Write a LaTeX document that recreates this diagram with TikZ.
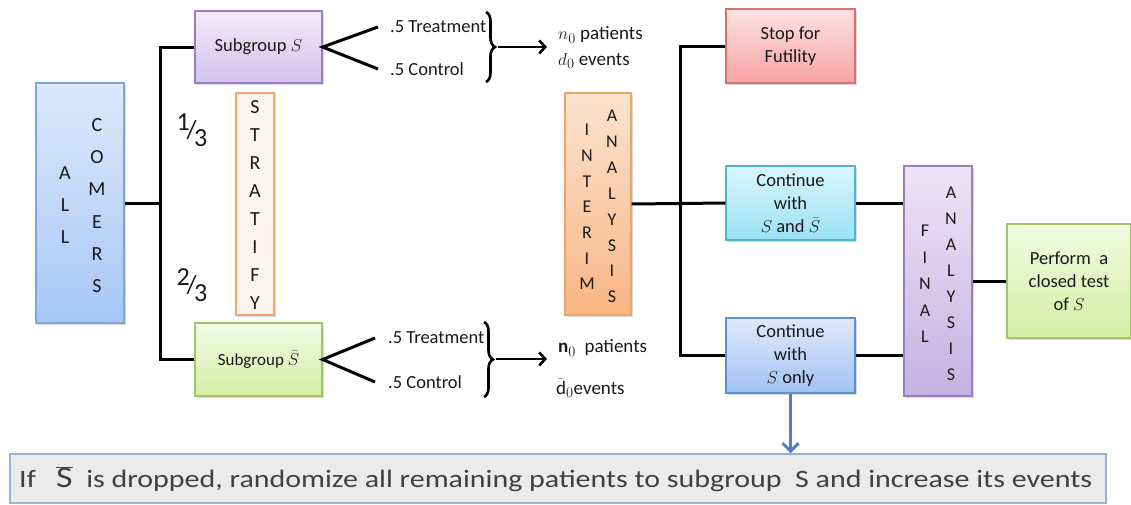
\documentclass[tikz,border=0pt]{standalone}
\usepackage{fontspec}
\setmainfont{Carlito}
\usetikzlibrary{arrows.meta,shadows,decorations.pathreplacing}
\definecolor{txt}{HTML}{1A1A1A}
\definecolor{bottxt}{HTML}{404040}
\definecolor{arrblue}{HTML}{4F81BD}
\begin{document}
\begin{tikzpicture}[x=1pt,y=-1pt,
  box/.style={draw, line width=1.2pt, inner sep=0pt, align=center,
    font=\fontsize{18.5}{23}\selectfont, text=txt,
    drop shadow={shadow xshift=1.5pt,shadow yshift=-1.5pt,opacity=0.3}},
  letters/.style={align=center, inner sep=0pt, text=txt},
  conn/.style={line width=3pt, black},
  lab/.style={inner sep=0pt, anchor=west, text=txt, font=\fontsize{18.5}{22}\selectfont},
  bracearrow/.style={line width=2.6pt, -{Straight Barb[length=6pt,width=13pt,line width=2.6pt]}},
  bracest/.style={line width=2.6pt, decorate, decoration={brace, amplitude=9pt}}
]
\useasboundingbox (0,0) rectangle (1131,504);

% boxes
\node[box, minimum width=88pt, minimum height=240pt, draw={rgb,255:red,127;green,166;blue,216}, top color={rgb,255:red,220;green,233;blue,252}, bottom color={rgb,255:red,167;green,199;blue,247}] (allc) at (80,203) {};
\node[letters, font=\fontsize{20}{32.2}\selectfont] (allA) at (65,205) {A\\L\\L};
\node[letters, font=\fontsize{20}{32.2}\selectfont] (allB) at (97,205.5) {C\\O\\M\\E\\R\\S};

\node[box, minimum width=127pt, minimum height=72pt, draw={rgb,255:red,155;green,127;blue,196}, top color={rgb,255:red,242;green,236;blue,250}, bottom color={rgb,255:red,211;green,193;blue,234}] (subS) at (258.5,47) {Subgroup $S$};
\node[box, minimum width=127pt, minimum height=73pt, draw={rgb,255:red,164;green,195;blue,106}, top color={rgb,255:red,241;green,250;blue,227}, bottom color={rgb,255:red,212;green,239;blue,166}] (subSb) at (258.5,359.5) {\fontsize{17}{20}\selectfont Subgroup $\bar S$};

\node[box, minimum width=38pt, minimum height=222pt, draw={rgb,255:red,242;green,166;blue,109}, fill={rgb,255:red,251;green,245;blue,241}] (strat) at (255,204) {};
\node[letters, font=\fontsize{20}{27.9}\selectfont] (stratT) at (255,205) {S\\T\\R\\A\\T\\I\\F\\Y};

\node[inner sep=0pt, text=txt, font=\fontsize{26}{26}\selectfont] (f13) at (192,130) {\raisebox{0.3em}{1}\kern-0.12em/\kern-0.1em\raisebox{-0.3em}{3}};
\node[inner sep=0pt, text=txt, font=\fontsize{26}{26}\selectfont] (f23) at (192,285) {\raisebox{0.3em}{2}\kern-0.12em/\kern-0.1em\raisebox{-0.3em}{3}};

\node[box, minimum width=66pt, minimum height=222pt, draw={rgb,255:red,238;green,164;blue,102}, top color={rgb,255:red,253;green,227;blue,207}, bottom color={rgb,255:red,248;green,181;blue,132}] (interim) at (598,204) {};
\node[letters, font=\fontsize{18}{25.7}\selectfont] (intA) at (587,207) {I\\N\\T\\E\\R\\I\\M};
\node[letters, font=\fontsize{18}{25.9}\selectfont] (intB) at (612,206.5) {A\\N\\A\\L\\Y\\S\\I\\S};

\node[box, minimum width=129pt, minimum height=74pt, draw={rgb,255:red,217;green,112;blue,110}, top color={rgb,255:red,253;green,226;blue,226}, bottom color={rgb,255:red,247;green,163;blue,163}] (stop) at (790.5,46) {Stop for\\Futility};
\node[box, minimum width=129pt, minimum height=74pt, draw={rgb,255:red,82;green,179;blue,204}, top color={rgb,255:red,218;green,246;blue,253}, bottom color={rgb,255:red,153;green,225;blue,244}] (cont1) at (790.5,203) {Continue\\with\\$S$ and $\bar S$};
\node[box, minimum width=129pt, minimum height=75pt, draw={rgb,255:red,91;green,142;blue,212}, top color={rgb,255:red,223;green,233;blue,251}, bottom color={rgb,255:red,162;green,194;blue,244}] (cont2) at (790.5,355.5) {Continue\\with\\$S$ only};

\node[box, minimum width=68pt, minimum height=230pt, draw={rgb,255:red,154;green,128;blue,195}, top color={rgb,255:red,236;green,229;blue,246}, bottom color={rgb,255:red,198;green,177;blue,225}] (final) at (938,281) {};
\node[letters, font=\fontsize{18}{26.5}\selectfont] (finA) at (925,284) {F\\I\\N\\A\\L};
\node[letters, font=\fontsize{18}{26}\selectfont] (finB) at (951,284) {A\\N\\A\\L\\Y\\S\\I\\S};

\node[box, minimum width=124pt, minimum height=114pt, draw={rgb,255:red,163;green,196;blue,106}, top color={rgb,255:red,240;green,250;blue,225}, bottom color={rgb,255:red,211;green,239;blue,165}] (perform) at (1069,281) {Perform\ \ a\\closed test\\of $S$};

\node[draw={rgb,255:red,149;green,179;blue,215}, line width=1.5pt, fill={rgb,255:red,235;green,235;blue,235}, minimum width=1096pt, minimum height=49pt, inner sep=0pt] (note) at (558,478.5) {};
\node[inner sep=0pt, anchor=west, text=bottxt, font=\fontsize{25}{28}\selectfont] (notetext) at (19,479) {\resizebox{1073pt}{\height}{If\ \ \ {\fontsize{30}{30}\selectfont$\overline{\mathrm{S}}$}\ \ is dropped, randomize all remaining patients to subgroup\ \ S and increase its events}};

% labels
\node[lab] (treatS) at (390,27) {.5 Treatment};
\node[lab] (ctrlS) at (390,69) {.5 Control};
\node[lab] (treatSb) at (388,338) {.5 Treatment};
\node[lab] (ctrlSb) at (388,382) {.5 Control};
\node[lab, font=\fontsize{19}{22}\selectfont] (nS) at (558,35) {$n_0$ patients};
\node[lab, font=\fontsize{19}{22}\selectfont] (dS) at (558,61) {$d_0$ events};
\node[lab, font=\fontsize{19}{22}\selectfont] (nSb) at (558,348) {$\mathbf{n}_0$\ \ patients};
\node[lab, font=\fontsize{19}{22}\selectfont] (dSb) at (556,388) {$\bar{\mathrm{d}}_0$events};

% trunk connectors
\coordinate (j1) at (160,203);
\draw[conn] (allc.east) -- (j1);
\draw[conn] (subS.west) -| (j1);
\draw[conn] (subSb.west) -| (j1);

% forks
\draw[conn] ([xshift=-12pt]treatS.west) -- (subS.east) -- ([xshift=-12pt]ctrlS.west);
\draw[conn] ([xshift=-13pt]treatSb.west) -- (subSb.east) -- ([xshift=-13pt]ctrlSb.west);

% braces and arrows
\draw[bracest] (486,12) -- (486,82);
\coordinate (tip1) at (498,47);
\draw[bracearrow] (tip1) -- ([xshift=-11pt]nS.west |- tip1);
\draw[bracest] (484,322) -- (484,397);
\coordinate (tip2) at (496,359);
\draw[bracearrow] (tip2) -- ([xshift=-11pt]nSb.west |- tip2);

% interim connectors
\coordinate (j2) at (680,204);
\draw[conn] (interim.east) -- (cont1.west);
\draw[conn] (stop.west) -| (j2);
\draw[conn] (cont2.west) -| (j2);

\draw[conn] (cont1.east) -- (cont1.east -| final.west);
\draw[conn] (cont2.east) -- (cont2.east -| final.west);
\draw[conn] (final.east) -- (perform.west);

\draw[line width=3pt, arrblue, -{Straight Barb[length=8pt,width=16pt,line width=3pt]}] (cont2.south) -- (cont2.south |- note.north);
\end{tikzpicture}
\end{document}
